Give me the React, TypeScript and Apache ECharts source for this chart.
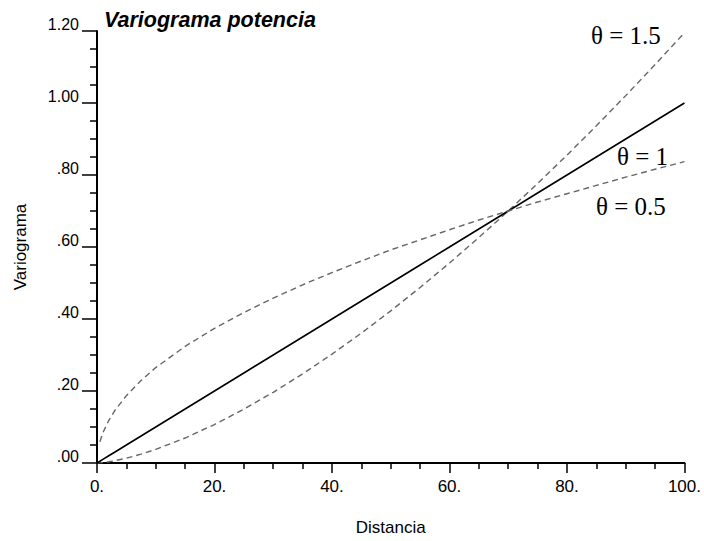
import React, { useEffect, useRef } from "react";
import * as echarts from "echarts";

// Lag distances (h) and power-variogram values for each exponent θ
const distances = [0, 0.5, 1, 2, 3, 5, 7.5, 10, 15, 20, 25, 30, 35, 40, 45, 50, 55, 60, 65, 70, 75, 80, 85, 90, 95, 100];
const thetaHalf = [null, 0.059, 0.084, 0.118, 0.145, 0.187, 0.229, 0.265, 0.324, 0.374, 0.418, 0.458, 0.495, 0.529, 0.561, 0.592, 0.62, 0.648, 0.675, 0.7, 0.725, 0.748, 0.771, 0.794, 0.816, 0.837];
const thetaOne = [0, 0.005, 0.01, 0.02, 0.03, 0.05, 0.075, 0.1, 0.15, 0.2, 0.25, 0.3, 0.35, 0.4, 0.45, 0.5, 0.55, 0.6, 0.65, 0.7, 0.75, 0.8, 0.85, 0.9, 0.95, 1.0];
const thetaOneHalf = [0, 0.0004, 0.0012, 0.0034, 0.0062, 0.0134, 0.0245, 0.0378, 0.0694, 0.1069, 0.1494, 0.1964, 0.2475, 0.3024, 0.3608, 0.4226, 0.4875, 0.5555, 0.6264, 0.7, 0.7763, 0.8552, 0.9366, 1.0205, 1.1067, 1.1952];

const curveLabels = ["θ = 1.5", "θ = 1", "θ = 0.5"];

const pairs = (ys: (number | null)[]) =>
  distances.map((x, i) => [x, ys[i]]).filter((p) => p[1] !== null);

const yTickText = (v: number) => {
  const s = v.toFixed(2);
  return v < 1 ? s.slice(1) : s;
};

export default function App() {
  const ref = useRef<HTMLDivElement>(null);

  useEffect(() => {
    if (!ref.current) return;
    const chart = echarts.init(ref.current, null, { renderer: "svg" });
    const sans = "Liberation Sans";
    const serif = "Liberation Serif";
    const dashed = { type: [6, 4] as number[], width: 1.4, color: "#666666" };

    chart.setOption({
      animation: false,
      backgroundColor: "#ffffff",
      title: {
        text: "Variograma potencia",
        left: 99,
        top: 4,
        textStyle: { fontFamily: sans, fontSize: 21.5, fontWeight: "bold", fontStyle: "italic", color: "#000" },
      },
      grid: { left: 97, right: 16, top: 31, bottom: 71 },
      xAxis: {
        type: "value",
        min: 0,
        max: 100,
        interval: 20,
        name: "Distancia",
        nameLocation: "middle",
        nameGap: 56,
        nameTextStyle: { fontFamily: sans, fontSize: 17, color: "#000" },
        splitLine: { show: false },
        axisLine: { lineStyle: { color: "#000", width: 2 } },
        axisTick: { length: 10, lineStyle: { color: "#000", width: 1.5 } },
        minorTick: { show: true, splitNumber: 4, length: 6, lineStyle: { color: "#000", width: 1.5 } },
        axisLabel: {
          margin: 15,
          fontFamily: sans,
          fontSize: 17,
          color: "#000",
          formatter: (v: number) => `${v}.`,
        },
      },
      yAxis: {
        type: "value",
        min: 0,
        max: 1.2,
        interval: 0.2,
        name: "Variograma",
        nameLocation: "middle",
        nameGap: 68,
        nameTextStyle: { fontFamily: sans, fontSize: 17, color: "#000" },
        splitLine: { show: false },
        axisLine: { show: true, lineStyle: { color: "#000", width: 2 } },
        axisTick: { show: true, length: 15, lineStyle: { color: "#000", width: 1.5 } },
        minorTick: { show: true, splitNumber: 4, length: 7, lineStyle: { color: "#000", width: 1.5 } },
        axisLabel: {
          margin: 18,
          fontFamily: sans,
          fontSize: 16,
          color: "#000",
          verticalAlign: "bottom",
          lineHeight: 14,
          formatter: yTickText,
        },
      },
      series: [
        {
          name: curveLabels[0],
          type: "line",
          data: pairs(thetaOneHalf),
          showSymbol: false,
          lineStyle: dashed,
        },
        {
          name: curveLabels[1],
          type: "line",
          data: pairs(thetaOne),
          showSymbol: false,
          lineStyle: { type: "solid", width: 1.6, color: "#000" },
        },
        {
          name: curveLabels[2],
          type: "line",
          data: pairs(thetaHalf),
          showSymbol: false,
          lineStyle: dashed,
        },
      ],
      graphic: [
        { type: "text", left: 591, top: 23, style: { text: curveLabels[0], font: `25px "${serif}"`, fill: "#000" } },
        { type: "text", left: 617, top: 144, style: { text: curveLabels[1], font: `25px "${serif}"`, fill: "#000" } },
        { type: "text", left: 596, top: 194, style: { text: curveLabels[2], font: `25px "${serif}"`, fill: "#000" } },
      ],
    });
    return () => chart.dispose();
  }, []);

  return <div ref={ref} style={{ position: "fixed", left: 0, top: 0, width: 704, height: 541 }} />;
}
